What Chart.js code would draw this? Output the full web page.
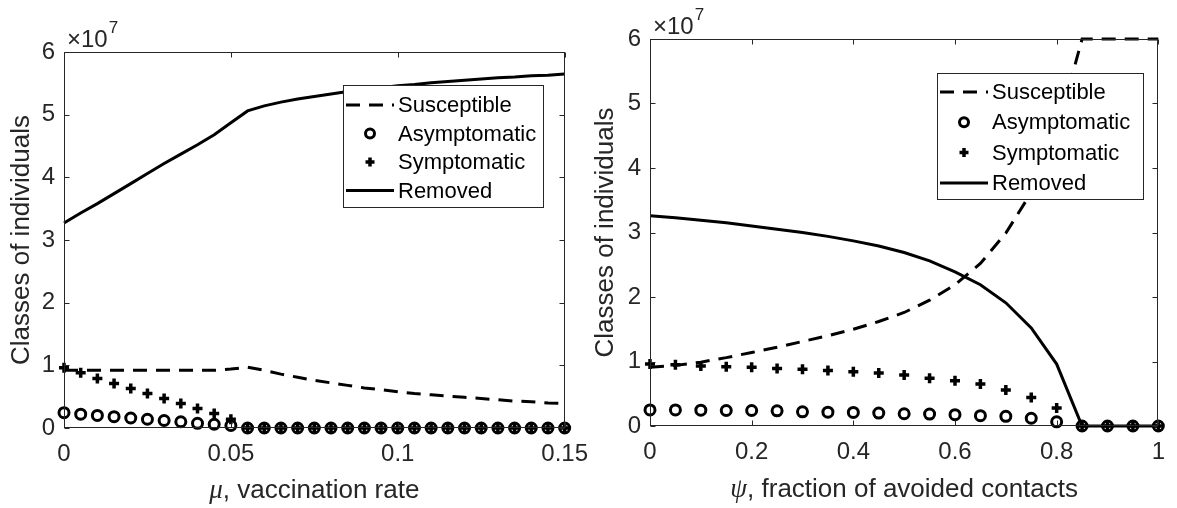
<!DOCTYPE html>
<html>
<head>
<meta charset="utf-8">
<script src="https://cdn.jsdelivr.net/npm/chart.js@4.4.0/dist/chart.umd.min.js"></script>
<style>
html,body{margin:0;padding:0;background:#fff;}
#wrap{position:relative;width:1177px;height:508px;overflow:hidden;background:#fff;}
#c1{position:absolute;left:0;top:0;}
#c2{position:absolute;left:580px;top:0;}
</style>
</head>
<body>
<div id="wrap">
<canvas id="c1" width="600" height="508"></canvas>
<canvas id="c2" width="597" height="508"></canvas>
</div>
<script>
// ---- DATA (population values in units of 10^7 individuals) ----
const seriesLabels = ['Susceptible', 'Asymptomatic', 'Symptomatic', 'Removed'];
const yTicks = [0, 1, 2, 3, 4, 5, 6];

// Left panel: mu, vaccination rate
const muValues = [0, 0.005, 0.01, 0.015, 0.02, 0.025, 0.03, 0.035, 0.04, 0.045,
  0.05, 0.055, 0.06, 0.065, 0.07, 0.075, 0.08, 0.085, 0.09, 0.095,
  0.1, 0.105, 0.11, 0.115, 0.12, 0.125, 0.13, 0.135, 0.14, 0.145, 0.15];
const muSusceptible = [0.92, 0.92, 0.92, 0.92, 0.92, 0.92, 0.92, 0.92, 0.92, 0.92,
  0.94, 0.97, 0.92, 0.86, 0.81, 0.76, 0.72, 0.68, 0.64, 0.61,
  0.58, 0.55, 0.53, 0.51, 0.49, 0.47, 0.45, 0.43, 0.42, 0.40, 0.39];
const muAsymptomatic = [0.245, 0.22, 0.20, 0.18, 0.16, 0.14, 0.12, 0.10, 0.075, 0.06,
  0.04, 0, 0, 0, 0, 0, 0, 0, 0, 0,
  0, 0, 0, 0, 0, 0, 0, 0, 0, 0, 0];
const muSymptomatic = [0.96, 0.88, 0.79, 0.71, 0.63, 0.55, 0.47, 0.39, 0.31, 0.23,
  0.14, 0, 0, 0, 0, 0, 0, 0, 0, 0,
  0, 0, 0, 0, 0, 0, 0, 0, 0, 0, 0];
const muRemoved = [3.27, 3.43, 3.58, 3.74, 3.90, 4.06, 4.22, 4.37, 4.52, 4.68,
  4.87, 5.06, 5.14, 5.20, 5.25, 5.29, 5.33, 5.37, 5.40, 5.43,
  5.46, 5.48, 5.51, 5.53, 5.55, 5.57, 5.59, 5.60, 5.62, 5.63, 5.65];
const muTicks = [0, 0.05, 0.1, 0.15];

// Right panel: psi, fraction of avoided contacts
const psiValues = [0, 0.05, 0.1, 0.15, 0.2, 0.25, 0.3, 0.35, 0.4, 0.45,
  0.5, 0.55, 0.6, 0.65, 0.7, 0.75, 0.8, 0.85, 0.9, 0.95, 1];
const psiSusceptible = [0.91, 0.94, 0.99, 1.06, 1.14, 1.22, 1.31, 1.40, 1.50, 1.62,
  1.76, 1.95, 2.19, 2.52, 2.99, 3.62, 4.55, 6.0, 6.0, 6.0, 6.0];
const psiAsymptomatic = [0.25, 0.25, 0.245, 0.24, 0.24, 0.235, 0.22, 0.215, 0.21, 0.20,
  0.19, 0.185, 0.175, 0.16, 0.15, 0.12, 0.065, 0, 0, 0, 0];
const psiSymptomatic = [0.96, 0.95, 0.93, 0.92, 0.91, 0.89, 0.88, 0.86, 0.84, 0.82,
  0.79, 0.74, 0.70, 0.65, 0.56, 0.44, 0.28, 0, 0, 0, 0];
const psiRemoved = [3.26, 3.23, 3.19, 3.15, 3.10, 3.05, 3.00, 2.94, 2.87, 2.79,
  2.69, 2.56, 2.39, 2.19, 1.91, 1.52, 0.96, 0, 0, 0, 0];
const psiTicks = [0, 0.2, 0.4, 0.6, 0.8, 1];

// ---- STYLE ----
const FONT = "'Liberation Sans', Arial, sans-serif";
const AXC = '#262626';
const DASH = [14, 9];

function pts(xs, ys) { return xs.map((x, i) => ({ x: x, y: ys[i] })); }

function makeDatasets(xs, S, A, Sy, R) {
  return [
    { label: seriesLabels[0], data: pts(xs, S), borderColor: '#000', borderWidth: 3,
      borderDash: DASH, pointRadius: 0, fill: false, tension: 0, clip: false },
    { label: seriesLabels[1], data: pts(xs, A), showLine: false, pointStyle: 'circle',
      pointRadius: 5, pointBorderWidth: 3, pointBorderColor: '#000',
      pointBackgroundColor: 'rgba(0,0,0,0)', borderColor: '#000', clip: false },
    { label: seriesLabels[2], data: pts(xs, Sy), showLine: false, pointStyle: 'cross',
      pointRadius: 5, pointBorderWidth: 3.5, pointBorderColor: '#000', borderColor: '#000', clip: false },
    { label: seriesLabels[3], data: pts(xs, R), borderColor: '#000', borderWidth: 3,
      pointRadius: 0, fill: false, tension: 0, clip: false }
  ];
}

const decor = {
  id: 'decor',
  afterDraw(chart, args, o) {
    const ctx = chart.ctx, a = chart.chartArea;
    const xs = chart.scales.x, ys = chart.scales.y;
    ctx.save();
    // frame
    ctx.strokeStyle = AXC; ctx.lineWidth = 1; ctx.setLineDash([]);
    const L = Math.round(a.left) + 0.5, R = Math.round(a.right) - 0.5;
    const T = Math.round(a.top) + 0.5, B = Math.round(a.bottom) - 0.5;
    ctx.strokeRect(L, T, R - L, B - T);
    ctx.beginPath();
    xs.ticks.forEach(t => {
      const px = Math.round(xs.getPixelForValue(t.value)) + 0.5;
      ctx.moveTo(px, B); ctx.lineTo(px, B - 5);
      ctx.moveTo(px, T); ctx.lineTo(px, T + 5);
    });
    ys.ticks.forEach(t => {
      const py = Math.round(ys.getPixelForValue(t.value)) + 0.5;
      ctx.moveTo(L, py); ctx.lineTo(L + 5, py);
      ctx.moveTo(R, py); ctx.lineTo(R - 5, py);
    });
    ctx.stroke();
    // exponent label
    ctx.fillStyle = AXC;
    ctx.textBaseline = 'alphabetic'; ctx.textAlign = 'left';
    ctx.font = '24px ' + FONT;
    const ex = a.left + 3, ey = a.top - 5;
    ctx.fillText('\u00d710', ex, ey);
    const w10 = ctx.measureText('\u00d710').width;
    ctx.font = '17px ' + FONT;
    ctx.fillText('7', ex + w10 + 1, ey - 14);
    // x title with italic symbol
    const parts = [
      { t: o.sym, f: "italic 27px 'Liberation Serif', serif" },
      { t: o.rest, f: '26px ' + FONT }
    ];
    let tw = 0;
    parts.forEach(p => { ctx.font = p.f; p.w = ctx.measureText(p.t).width; tw += p.w; });
    let tx = (a.left + a.right) / 2 - tw / 2;
    ctx.fillStyle = AXC;
    parts.forEach(p => { ctx.font = p.f; ctx.fillText(p.t, tx, o.titleY); tx += p.w; });
    // legend
    const lg = o.legend;
    ctx.fillStyle = '#fff';
    ctx.fillRect(lg.x, lg.y, lg.w, lg.h);
    ctx.strokeStyle = AXC; ctx.lineWidth = 1;
    ctx.strokeRect(lg.x + 0.5, lg.y + 0.5, lg.w, lg.h);
    chart.data.datasets.forEach((ds, i) => {
      const cy = lg.y + lg.row0 + i * lg.dy;
      const sx0 = lg.x + 3, sx1 = lg.x + 51, mx = lg.x + 27;
      ctx.strokeStyle = '#000';
      if (ds.showLine === false) {
        ctx.save();
        ctx.lineWidth = ds.pointBorderWidth;
        ctx.setLineDash([]);
        ctx.beginPath();
        if (ds.pointStyle === 'circle') {
          ctx.arc(mx, cy, ds.pointRadius - 0.5, 0, Math.PI * 2);
        } else {
          ctx.moveTo(mx - ds.pointRadius + 0.5, cy); ctx.lineTo(mx + ds.pointRadius - 0.5, cy);
          ctx.moveTo(mx, cy - ds.pointRadius + 0.5); ctx.lineTo(mx, cy + ds.pointRadius - 0.5);
        }
        ctx.stroke();
        ctx.restore();
      } else {
        ctx.save();
        ctx.lineWidth = ds.borderWidth;
        ctx.setLineDash(ds.borderDash || []);
        ctx.beginPath(); ctx.moveTo(sx0, cy); ctx.lineTo(sx1, cy); ctx.stroke();
        ctx.restore();
      }
      ctx.fillStyle = '#000';
      ctx.font = '22px ' + FONT;
      ctx.textBaseline = 'middle';
      ctx.fillText(ds.label, lg.x + 55, cy + 1);
    });
    ctx.restore();
  }
};

function makeChart(id, p) {
  return new Chart(document.getElementById(id), {
    type: 'line',
    data: { datasets: makeDatasets(p.xs, p.S, p.A, p.Sy, p.R) },
    options: {
      responsive: false,
      devicePixelRatio: 1,
      animation: false,
      layout: { padding: p.pad },
      plugins: {
        legend: { display: false },
        tooltip: { enabled: false },
        decor: { sym: p.sym, rest: p.rest, titleY: p.titleY, legend: p.legend }
      },
      scales: {
        x: {
          type: 'linear', min: p.xmin, max: p.xmax,
          afterBuildTicks: s => { s.ticks = p.xticks.map(v => ({ value: v })); },
          afterFit: s => { s.height = p.xh; },
          grid: { display: false, drawTicks: false },
          border: { display: false },
          ticks: { font: { family: FONT, size: 24 }, color: AXC, padding: 12,
                   maxRotation: 0, autoSkip: false, callback: v => String(v) }
        },
        y: {
          type: 'linear', min: 0, max: 6,
          afterBuildTicks: s => { s.ticks = yTicks.map(v => ({ value: v })); },
          afterFit: s => { s.width = p.yw; },
          grid: { display: false, drawTicks: false },
          border: { display: false },
          ticks: { font: { family: FONT, size: 24 }, color: AXC, padding: 9,
                   callback: v => String(v) },
          title: { display: true, text: 'Classes of individuals', color: AXC,
                   font: { family: FONT, size: 26, lineHeight: 1.2 },
                   padding: { top: p.ytp, bottom: 0 } }
        }
      }
    },
    plugins: [decor]
  });
}

makeChart('c1', {
  xs: muValues, S: muSusceptible, A: muAsymptomatic, Sy: muSymptomatic, R: muRemoved,
  xmin: 0, xmax: 0.15, xticks: muTicks,
  pad: { top: 52, right: 30, left: 0, bottom: 0 }, xh: 80, yw: 64, ytp: 6.4,
  sym: '\u03bc', rest: ', vaccination rate', titleY: 498,
  legend: { x: 343, y: 85, w: 200, h: 122, row0: 20, dy: 28.5 }
});
makeChart('c2', {
  xs: psiValues, S: psiSusceptible, A: psiAsymptomatic, Sy: psiSymptomatic, R: psiRemoved,
  xmin: 0, xmax: 1, xticks: psiTicks,
  pad: { top: 39, right: 8, left: 0, bottom: 0 }, xh: 82, yw: 70, ytp: 10,
  sym: '\u03c8', rest: ', fraction of avoided contacts', titleY: 497,
  legend: { x: 357, y: 73, w: 206, h: 126, row0: 19, dy: 30.3 }
});
</script>
</body>
</html>
